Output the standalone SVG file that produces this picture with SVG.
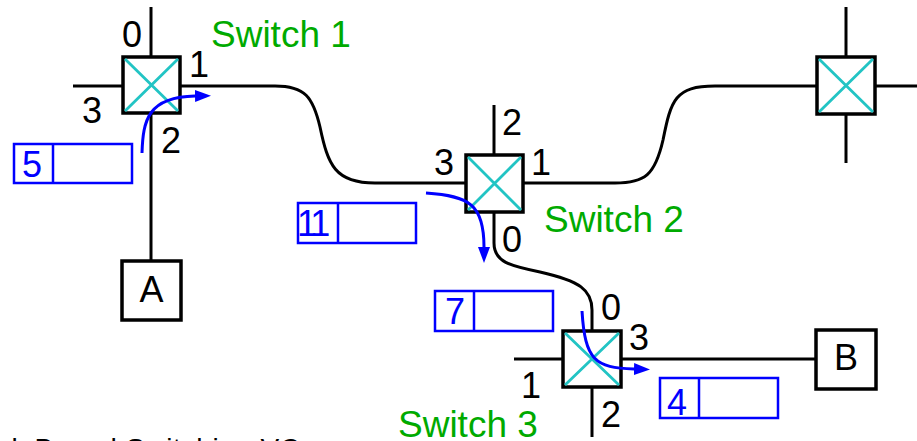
<svg xmlns="http://www.w3.org/2000/svg" width="917" height="441" viewBox="0 0 917 441">
<style>
.wire{fill:none;stroke:#000;stroke-width:3}
.sw{fill:#fff;stroke:#000;stroke-width:3.5}
.x{stroke:#22c4c4;stroke-width:2.8}
.host{fill:#fff;stroke:#000;stroke-width:3.5}
.port{font-family:"Liberation Sans",Arial,sans-serif;font-size:36px;fill:#000}
.name{font-family:"Liberation Sans",Arial,sans-serif;font-size:37px;fill:#0a0}
.vc{fill:#fff;stroke:#00f;stroke-width:2.5}
.vct{font-family:"Liberation Sans",Arial,sans-serif;font-size:36px;fill:#00f}
.flow{fill:none;stroke:#00f;stroke-width:3}
.cap{font-family:"Liberation Sans",Arial,sans-serif;font-size:28px;fill:#000}
</style>
<defs>
<marker id="ah" viewBox="0 0 16 12" refX="0" refY="6" markerWidth="16" markerHeight="12" markerUnits="userSpaceOnUse" orient="auto">
<path d="M0,0 L16,6 L0,12 z" fill="#00f"/>
</marker>
</defs>
<rect width="917" height="441" fill="#fff"/>
<g id="connectors">
<path class="wire" d="M151,7 V57"/>
<path class="wire" d="M73,86 H123"/>
<path class="wire" d="M151,113 V261"/>
<path class="wire" d="M181,86 H275 C305,86 313,97 320,127 C328,165 335,183 375,183 H466"/>
<path class="wire" d="M494,105 V155"/>
<path class="wire" d="M523,183 H615 C645,183 655,175 663,140 C671,100 675,86 715,86 H817"/>
<path class="wire" d="M494,212 V243 C494,262 510,266 540,272 C580,281 592,290 592,310 V331"/>
<path class="wire" d="M846,7 V57"/>
<path class="wire" d="M846,114 V163"/>
<path class="wire" d="M875,86 H917"/>
<path class="wire" d="M514,359 H563"/>
<path class="wire" d="M621,359 H816"/>
<path class="wire" d="M592,387 V437"/>
</g>
<g id="switch1">
<rect class="sw" x="123" y="57" width="57" height="56"/>
<path class="x" d="M125,59 L178,111 M178,59 L125,111"/>
<text class="port" x="122" y="47">0</text>
<text class="port" x="189" y="77">1</text>
<text class="port" x="161" y="153">2</text>
<text class="port" x="82" y="123">3</text>
<text class="name" x="211" y="47">Switch 1</text>
</g>
<g id="switch2">
<rect class="sw" x="466" y="155" width="57" height="57"/>
<path class="x" d="M468,157 L521,210 M521,157 L468,210"/>
<text class="port" x="502" y="252">0</text>
<text class="port" x="531" y="175">1</text>
<text class="port" x="502" y="135">2</text>
<text class="port" x="434" y="175">3</text>
<text class="name" x="544" y="232">Switch 2</text>
</g>
<g id="switch3">
<rect class="sw" x="563" y="331" width="58" height="56"/>
<path class="x" d="M565,333 L619,385 M619,333 L565,385"/>
<text class="port" x="601" y="320">0</text>
<text class="port" x="521" y="398">1</text>
<text class="port" x="601" y="427">2</text>
<text class="port" x="629" y="350">3</text>
<text class="name" x="398" y="437">Switch 3</text>
</g>
<g id="switch4">
<rect class="sw" x="817" y="57" width="58" height="57"/>
<path class="x" d="M819,59 L873,112 M873,59 L819,112"/>
</g>
<g id="hostA">
<rect class="host" x="122" y="261" width="59" height="59"/>
<text class="port" x="151.5" y="302" text-anchor="middle">A</text>
</g>
<g id="hostB">
<rect class="host" x="816" y="330" width="60" height="59"/>
<text class="port" x="846" y="370" text-anchor="middle">B</text>
</g>
<g id="vc5">
<rect class="vc" x="14" y="144" width="118" height="39"/>
<path class="vc" d="M53,144 V183"/>
<text class="vct" x="22" y="177">5</text>
</g>
<g id="vc11">
<rect class="vc" x="298" y="203" width="118" height="40"/>
<path class="vc" d="M338,203 V243"/>
<text class="vct" x="297" y="236" letter-spacing="-4">11</text>
</g>
<g id="vc7">
<rect class="vc" x="435" y="291" width="118" height="40"/>
<path class="vc" d="M474,291 V331"/>
<text class="vct" x="445" y="324">7</text>
</g>
<g id="vc4">
<rect class="vc" x="660" y="378" width="118" height="40"/>
<path class="vc" d="M699,378 V418"/>
<text class="vct" x="667" y="415">4</text>
</g>
<g id="flows">
<path class="flow" d="M142,153 C143,120 148,97 195,96" marker-end="url(#ah)"/>
<path class="flow" d="M426,193 C470,196 484,205 484,247" marker-end="url(#ah)"/>
<path class="flow" d="M582,311 C585,360 595,368 634,369" marker-end="url(#ah)"/>
</g>
<text class="cap" x="-28" y="458" textLength="328" lengthAdjust="spacing">Link Based Switching VC</text>
</svg>
